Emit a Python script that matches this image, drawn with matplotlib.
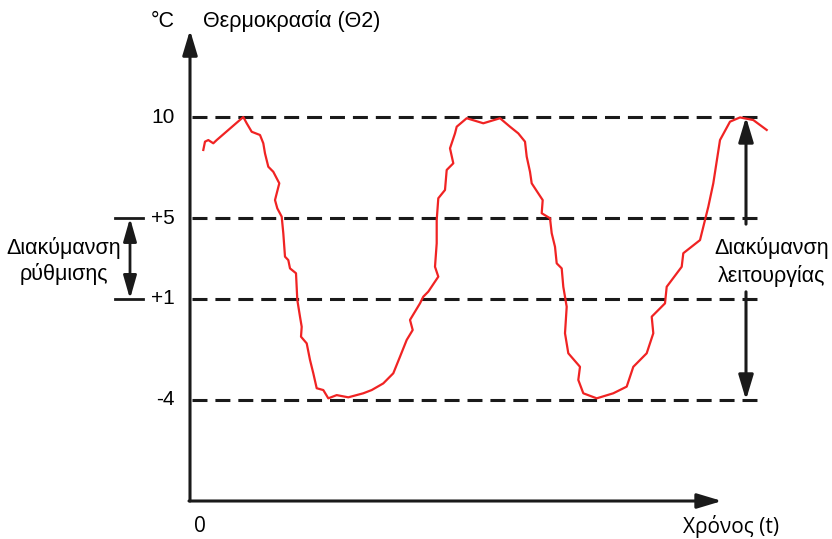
import matplotlib.pyplot as plt

plt.rcParams['font.family'] = ['Liberation Sans', 'DejaVu Sans']

# Χρόνος (αυθαίρετες μονάδες) και θερμοκρασία σε °C, όπως διαβάστηκαν από το σχήμα
time = [13.3, 15, 18.3, 23.3, 26.7, 53.3, 56.7, 61.7, 70, 73.3, 75, 78.3, 83.3, 89.3, 85,
        87.3, 91.7, 93.3, 95, 98.3, 100, 106, 107.3, 110, 111.7, 111, 116.7, 120, 123.3,
        126.7, 133.3, 138.3, 146.7, 158.3, 173.3, 181.7, 193.3, 203.3, 210, 216.7, 222.7,
        220, 230, 233.3, 238.3, 248.3, 245, 246.7, 246.7, 248.3, 255, 256.7, 263.3, 260,
        265, 266.7, 276.7, 293.3, 310, 320, 328.3, 335, 336.7, 340, 341.7, 348.3, 352.7,
        351.7, 360, 361.7, 365, 366.7, 371.7, 373.3, 376.7, 375, 378.3, 390, 388.3, 393.3,
        406.7, 423.3, 436.7, 443.3, 456.7, 463.3, 461.7, 475, 476.7, 491.7, 493.3, 510,
        518.3, 523.3, 530, 540, 550, 563.3, 576.7]
temp = [8.37, 8.78, 8.86, 8.70, 8.86, 10.0, 9.69, 9.27, 9.11, 8.70, 8.20, 7.54, 7.29, 6.72,
        5.89, 5.48, 5.07, 4.25, 3.09, 2.92, 2.51, 2.27, 0.95, 0.12, -0.38, -0.87, -1.20,
        -2.02, -2.68, -3.42, -3.51, -3.92, -3.76, -3.87, -3.67, -3.51, -3.18, -2.68, -1.86,
        -1.03, -0.54, -0.04, 0.78, 1.11, 1.36, 2.10, 2.59, 3.75, 4.90, 5.98, 6.39, 7.38,
        7.71, 8.45, 9.19, 9.52, 9.94, 9.69, 9.94, 9.52, 9.19, 8.78, 8.04, 7.29, 6.72, 6.22,
        5.89, 5.24, 4.99, 4.25, 3.58, 2.76, 2.51, 1.60, 0.61, -0.70, -1.69, -2.36, -3.01,
        -3.67, -3.92, -3.67, -3.34, -2.36, -1.69, -0.70, 0.12, 0.78, 1.60, 2.59, 3.26, 3.91,
        5.56, 6.72, 8.86, 9.77, 9.98, 9.85, 9.36]

levels = [10, 5, 1, -4]
level_labels = ['10', '+5', '+1', '-4']

fig = plt.figure(figsize=(8.32, 5.39), dpi=100)
ax = fig.add_axes([0, 0, 1, 1])
ax.set_xlim(-190, 642)
ax.set_ylim(-10.88, 15.79)
ax.axis('off')

# άξονες με βέλη
arr = dict(arrowstyle='-|>,head_length=1.5,head_width=0.45', lw=2.2, color='#1a1a1a',
           shrinkA=0, shrinkB=0, mutation_scale=10)
ax.annotate('', xy=(0, 14.3), xytext=(0, -9.0), arrowprops=arr)
ax.annotate('', xy=(532, -9.0), xytext=(-1, -9.0), arrowprops=arr)

# διακεκομμένες γραμμές
for lv, lab in zip(levels, level_labels):
    ax.plot([2, 567], [lv, lv], color='#1a1a1a', lw=2.2, dashes=(4.9, 2.6))
    ax.text(-15, lv, lab, ha='right', va='center', fontsize=15)

# διακύμανση ρύθμισης (αριστερά)
for lv in [5, 1]:
    ax.plot([-75, -47], [lv, lv], color='#1a1a1a', lw=2.0)
arr2 = dict(arrowstyle='<|-|>,head_length=1.4,head_width=0.4', lw=2.0, color='#1a1a1a',
            shrinkA=0, shrinkB=0, mutation_scale=10)
ax.annotate('', xy=(-60, 5), xytext=(-60, 1), arrowprops=arr2)
ax.text(-126, 3.52, 'Διακύμανση', ha='center', va='center', fontsize=15.5)
ax.text(-126, 2.25, 'ρύθμισης', ha='center', va='center', fontsize=15.5)

# διακύμανση λειτουργίας (δεξιά)
ax.annotate('', xy=(556, 10), xytext=(556, 4.7), arrowprops=arr)
ax.annotate('', xy=(556, -4), xytext=(556, 1.35), arrowprops=arr)
ax.text(582, 3.52, 'Διακύμανση', ha='center', va='center', fontsize=15.5)
ax.text(582, 2.15, 'λειτουργίας', ha='center', va='center', fontsize=15.5)

# καμπύλη θερμοκρασίας
ax.plot(time, temp, color='#f02323', lw=1.6, solid_joinstyle='round')

# τίτλοι
ax.text(-27, 14.75, '°C', ha='center', va='center', fontsize=15.5)
ax.text(13, 14.75, 'Θερμοκρασία (Θ2)', ha='left', va='center', fontsize=15.5)
ax.text(10, -10.24, '0', ha='center', va='center', fontsize=15,
        family=['Open Sans', 'DejaVu Sans'])
ax.text(493, -10.24, 'Χρόνος (t)', ha='left', va='center', fontsize=15,
        family=['Open Sans', 'DejaVu Sans'])

fig.savefig('out.png', dpi=100)
